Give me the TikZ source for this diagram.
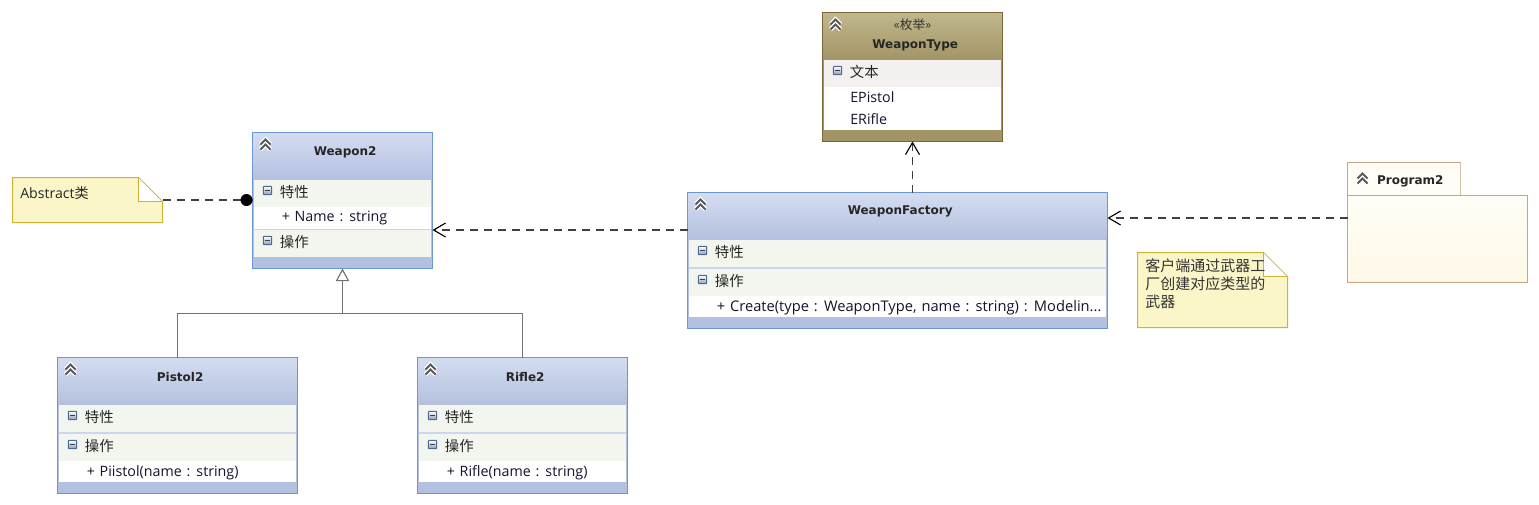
\documentclass[tikz,border=0pt]{standalone}
\usepackage{fontspec}
\usetikzlibrary{arrows.meta,calc}
\setmainfont[WordSpace=1.3]{Open Sans}
\newfontfamily\cjk{Noto Sans CJK SC}
\newfontfamily\ttl{DejaVu Sans}
\definecolor{blueB}{HTML}{6A97CF}
\definecolor{hdT}{HTML}{D3DCF0}
\definecolor{hdB}{HTML}{B4C0DF}
\definecolor{comp}{HTML}{F3F6EF}
\definecolor{sep}{HTML}{CBD5EE}
\definecolor{brownB}{HTML}{7B6636}
\definecolor{brT}{HTML}{C0B78C}
\definecolor{brB}{HTML}{A29466}
\definecolor{comp2}{HTML}{F5F0F0}
\definecolor{pkB}{HTML}{C4A685}
\definecolor{pkT}{HTML}{FFFDF6}
\definecolor{pkE}{HTML}{FEF9E7}
\definecolor{noteF}{HTML}{FBF6C8}
\definecolor{noteB}{HTML}{CFB233}
\definecolor{ink}{HTML}{14142E}
\tikzset{
  box/.style={anchor=north west,inner sep=0pt,outer sep=0pt,line width=.75pt,draw=blueB},
  cell/.style={anchor=north west,inner sep=0pt,outer sep=0pt},
  txt/.style={anchor=west,inner sep=0pt,yshift=-.6pt,font=\fontsize{10.7pt}{12pt}\selectfont,text=ink},
  cn/.style={anchor=west,inner sep=0pt,xshift=-.6pt,yshift=-.3pt,font=\cjk\fontsize{10.8pt}{12pt}\selectfont,text=black!85},
  title/.style={inner sep=0pt,xshift=2pt,yshift=-1pt,font=\ttl\bfseries\fontsize{9pt}{11pt}\selectfont,text=black!85},
  dep/.style={line width=1.1pt,draw=black!75,dash pattern=on 6pt off 4.5pt},
  tip/.style={-{Straight Barb[length=9pt,width=10.5pt,line width=.85pt,black]}},
  gen/.style={line width=.75pt,draw=black!55},
  notebox/.style={fill=noteF,draw=noteB,line width=.75pt},
}
% chevron icon
\newcommand{\chev}[3][white]{%
  \foreach \d in {-2.5,2.5}{%
    \draw[#1,line width=3.4pt,line join=miter] (#2-5,#3+\d+2.5) -- (#2,#3-2.5+\d) -- (#2+5,#3+\d+2.5);}%
  \foreach \d in {-2.5,2.5}{%
    \draw[black!65,line width=1.35pt,line join=miter] (#2-5,#3+\d+2.5) -- (#2,#3-2.5+\d) -- (#2+5,#3+\d+2.5);}%
}
% collapse icon
\newcommand{\minusbox}[2]{%
  \draw[draw=blueB!70!black,top color=white,bottom color=hdB!80!black,line width=.7pt,rounded corners=.6pt] (#1-4.2,#2-4.2) rectangle (#1+4.2,#2+4.2);
  \draw[black!75,line width=.8pt] (#1-2.6,#2) -- (#1+2.6,#2);
}
% compartment: x y w h icon-label
\newcommand{\compart}[6][comp]{%
  \node[cell,fill=#1,minimum width=#4*.75pt-2.25pt,minimum height=#5*.75pt] at (#2+1.5,#3) {};
  \minusbox{#2+15}{#3+11}
  \node[cn] at (#2+28,#3+12.5) {#6};
}
\begin{document}
\begin{tikzpicture}[x=.75pt,y=-.75pt]
\useasboundingbox (0,0) rectangle (1539,504);
\begin{scope}[shift={(.5,.5)}]

% ---------- Weapon2
\node[box,minimum width=135pt,minimum height=102pt,fill=hdB] (w) at (252,132) {};
\node[cell,minimum width=134pt,minimum height=35pt,top color=hdT,bottom color=hdB] at (252.7,132.7) {};
\node[title] (wt) at (342,150) {Weapon2};
\chev{265}{144}
\compart{252}{179}{180}{27}{特性}
\node[cell,fill=white,minimum width=132.75pt,minimum height=16.5pt] at (253.5,206) {};
\draw[sep,line width=.75pt] (253.5,228.5) -- (430.5,228.5);
\node[txt] at (281,217) {+ Name : string};
\compart{252}{229}{180}{27}{操作}

% ---------- Pistol2
\node[box,minimum width=180pt,minimum height=102pt,fill=hdB] (p) at (57,357) {};
\node[cell,minimum width=179pt,minimum height=35pt,top color=hdT,bottom color=hdB] at (57.7,357.7) {};
\node[title] (pt) at (177,375) {Pistol2};
\chev{70}{369}
\compart{57}{404}{240}{27}{特性}
\node[cell,fill=sep,minimum width=177.75pt,minimum height=1.5pt] at (58.5,431) {};
\compart{57}{433}{240}{27}{操作}
\node[cell,fill=white,minimum width=177.75pt,minimum height=15.75pt] at (58.5,460) {};
\node[txt] at (86,471) {+ Piistol(name : string)};

% ---------- Rifle2
\node[box,minimum width=157.5pt,minimum height=102pt,fill=hdB] (r) at (417,357) {};
\node[cell,minimum width=156.5pt,minimum height=35pt,top color=hdT,bottom color=hdB] at (417.7,357.7) {};
\node[title] (rt) at (522,375) {Rifle2};
\chev{430}{369}
\compart{417}{404}{210}{27}{特性}
\node[cell,fill=sep,minimum width=155.25pt,minimum height=1.5pt] at (418.5,431) {};
\compart{417}{433}{210}{27}{操作}
\node[cell,fill=white,minimum width=155.25pt,minimum height=15.75pt] at (418.5,460) {};
\node[txt] at (446,471) {+ Rifle(name : string)};

% ---------- WeaponFactory
\node[box,minimum width=315pt,minimum height=102pt,fill=hdB] (f) at (687,192) {};
\node[cell,minimum width=314pt,minimum height=35pt,top color=hdT,bottom color=hdB] at (687.7,192.7) {};
\node[title] (ft) at (897,210) {WeaponFactory};
\chev{700}{204}
\compart{687}{239}{420}{27}{特性}
\node[cell,fill=sep,minimum width=312.75pt,minimum height=1.5pt] at (688.5,266) {};
\compart{687}{268}{420}{27}{操作}
\node[cell,fill=white,minimum width=312.75pt,minimum height=15.75pt] at (688.5,295) {};
\node[txt,font=\fontsize{11pt}{12pt}\selectfont] at (716,306) {+ Create(type : WeaponType, name : string) : Modelin...};

% ---------- WeaponType
\node[box,draw=brownB,minimum width=135pt,minimum height=96.75pt,fill=brB] (e) at (822,12) {};
\node[cell,minimum width=134pt,minimum height=35pt,top color=brT,bottom color=brB] at (822.7,12.7) {};
\node[inner sep=0pt,font=\cjk\fontsize{9.5pt}{10pt}\selectfont,text=black!80] (es) at (912,24) {«枚举»};
\node[title] (et) at (912,44) {WeaponType};
\chev{835}{24}
\compart[comp2]{822}{59}{180}{27}{文本}
\node[cell,fill=white,minimum width=132.75pt,minimum height=32.25pt] at (823.5,86) {};
\node[txt] at (849.5,96) {EPistol};
\node[txt] at (849.5,117.5) {ERifle};

% ---------- Program2 package
\node[cell,draw=pkB!70,line width=.75pt,fill=pkT,minimum width=84.75pt,minimum height=25pt] (tab) at (1347,162) {};
\draw[pkB,line width=.75pt] (tab.south west) -- (tab.north west) -- (tab.north east);
\node[cell,draw=pkB,line width=.75pt,top color=pkT,bottom color=pkE,minimum width=135pt,minimum height=65.25pt] (pk) at (1347,195) {};
\chev[white]{1362}{178}
\node[title,anchor=west,xshift=-2.5pt] (pkt) at (1377,180) {Program2};

% ---------- Notes
\node[cell,minimum width=112.5pt,minimum height=33.75pt] (n1) at (12,177) {};
\draw[notebox] (n1.north west) -- ++(126,0) -- (n1.east |- 0,201) -- (n1.south east) -- (n1.south west) -- cycle;
\draw[noteB,line width=.5pt,fill=white] (n1.north west) ++(126,0) -- (n1.east |- 0,201) -- ++(-24,0) -- cycle;
\node[anchor=west,inner sep=0pt,font=\fontsize{10.6pt}{12pt}\selectfont,text=black!85] (n1t) at (19.5,193) {Abstract{\cjk 类}};

\node[cell,minimum width=112.5pt,minimum height=56.25pt] (n2) at (1137,252) {};
\draw[notebox] (n2.north west) -- ++(126,0) -- (n2.east |- 0,276) -- (n2.south east) -- (n2.south west) -- cycle;
\draw[noteB,line width=.5pt,fill=white] (n2.north west) ++(126,0) -- (n2.east |- 0,276) -- ++(-24,0) -- cycle;
\node[anchor=north west,inner sep=0pt,align=left,font=\cjk\fontsize{11.25pt}{13.5pt}\selectfont,text=black!80] (n2t) at (1144.5,258) {客户端通过武器工\\厂创建对应类型的\\武器};

% ---------- Connectors
\draw[dep] (n1.east |- 0,199.5) -- (w.west |- 0,199.5);
\fill[black] ($(w.west |- 0,199.5)+(-6,0)$) circle[radius=4.5pt];
\draw[dep,tip] (f.west |- 0,229.5) -- (w.east |- 0,229.5);
\draw[dep,tip] (e.south |- f.north) -- (e.south);
\draw[dep,tip] (pk.west |- 0,217.5) -- (f.east |- 0,217.5);
\coordinate (j) at (342,313);
\draw[gen] (p.north) |- (r.north |- j) -- (r.north);
\draw[gen,-{Triangle[open,length=9.5pt,width=10pt,fill=white,line width=.85pt]}] (j) -- (w.south);
\end{scope}
\end{tikzpicture}
\end{document}
